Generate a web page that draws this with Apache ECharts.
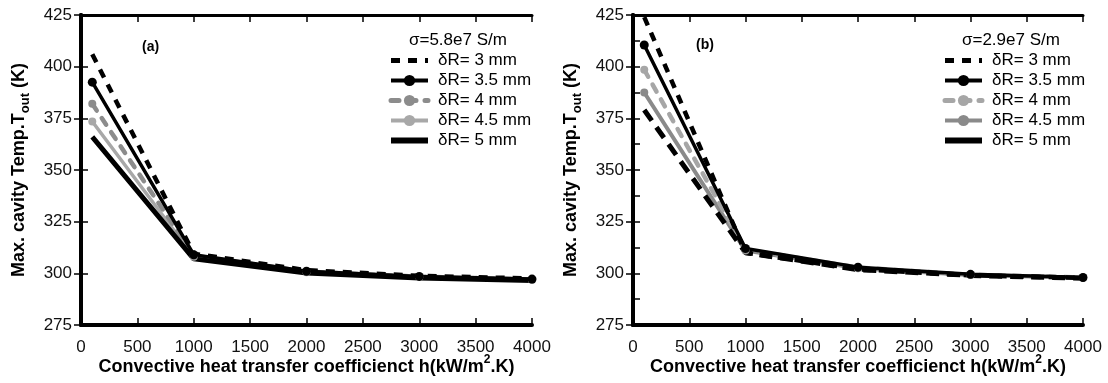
<!DOCTYPE html>
<html><head><meta charset="utf-8">
<script src="https://cdn.jsdelivr.net/npm/echarts@6/dist/echarts.min.js"></script>
<style>html,body{margin:0;padding:0;background:#fff}#c{width:1108px;height:383px}</style>
</head><body><div id="c"></div>
<script>
// ---- data ----
const h = [100, 1000, 2000, 3000, 4000];
const seriesNames = ['δR= 3 mm', 'δR= 3.5 mm', 'δR= 4 mm', 'δR= 4.5 mm', 'δR= 5 mm'];
// panel (a) sigma = 5.8e7 S/m
const a_dR3  = [406, 309.5, 301.5, 298.8, 297.5];
const a_dR35 = [392.5, 309, 301, 298.5, 297.2];
const a_dR4  = [382, 308.5, 300.8, 298.4, 297];
const a_dR45 = [373.5, 308, 300.5, 298.2, 296.8];
const a_dR5  = [366, 307, 300.2, 297.8, 296.5];
// panel (b) sigma = 2.9e7 S/m
const b_dR3  = [424, 310, 302, 299, 297.8];
const b_dR35 = [410.5, 312, 303, 299.5, 298];
const b_dR4  = [398.5, 311.5, 302.8, 299.3, 298];
const b_dR45 = [387.5, 311, 302.5, 299.2, 297.9];
const b_dR5  = [379, 310, 301.8, 299, 297.6];

const pairs = (ys) => h.map((x, i) => [x, ys[i]]);

const font = 'Liberation Sans, Arial, sans-serif';
function axesFor(gi, minor) {
  const xs = [
    { type: 'value', gridIndex: gi, min: 0, max: 4000, interval: 500, position: 'bottom',
      axisLine: { lineStyle: { color: '#000', width: 4 } },
      axisTick: { inside: true, length: 7, lineStyle: { color: '#000', width: 1.5 } },
      axisLabel: { color: '#111', fontSize: 17, fontFamily: font, margin: 14, formatter: v => String(v) },
      splitLine: { show: false },
      name: '{b|Convective heat transfer coefficienct h(kW/m}{sup|2}{b|.K)}',
      nameLocation: 'middle', nameGap: 29, nameMoveOverlap: false,
      nameTextStyle: { rich: {
        b: { fontSize: 18, fontWeight: 'bold', fontFamily: font, color: '#000', verticalAlign: 'bottom', lineHeight: 22 },
        sup: { fontSize: 12, fontWeight: 'bold', fontFamily: font, color: '#000', verticalAlign: 'top', lineHeight: 22, padding: [0, 0, 6, 0] }
      } } },
    { type: 'value', gridIndex: gi, min: 0, max: 4000, interval: 500, position: 'top',
      axisLine: { lineStyle: { color: '#000', width: 3 } },
      axisTick: { inside: true, length: 7, lineStyle: { color: '#000', width: 1.5 } },
      axisLabel: { show: false }, splitLine: { show: false } }
  ];
  const ys = [
    { type: 'value', gridIndex: gi, min: 275, max: 425, interval: 25, position: 'left',
      axisLine: { show: true, lineStyle: { color: '#000', width: 4 } },
      axisTick: { show: true, inside: true, length: 7, lineStyle: { color: '#000', width: 1.5 } },
      minorTick: { show: minor, splitNumber: 2, length: 7, lineStyle: { color: '#000', width: 1.5 } },
      axisLabel: { color: '#111', fontSize: 17, fontFamily: font, margin: 9 },
      splitLine: { show: false },
      name: '{b|Max. cavity Temp.T}{s|out}{b| (K)}',
      nameLocation: 'middle', nameGap: 49, nameRotate: 90, nameMoveOverlap: false,
      nameTextStyle: { rich: {
        b: { fontSize: 18, fontWeight: 'bold', fontFamily: font, color: '#000', verticalAlign: 'top', lineHeight: 22 },
        s: { fontSize: 13, fontWeight: 'bold', fontFamily: font, color: '#000', verticalAlign: 'bottom', lineHeight: 22, padding: [6, 0, 0, 0] }
      } } },
    { type: 'value', gridIndex: gi, min: 275, max: 425, interval: 25, position: 'right',
      axisLine: { show: true, lineStyle: { color: '#000', width: 4 } },
      axisTick: { show: true, inside: true, length: 7, lineStyle: { color: '#000', width: 1.5 } },
      axisLabel: { show: false }, splitLine: { show: false } }
  ];
  return { xs, ys };
}

const A = axesFor(0, false), B = axesFor(1, true);

function mk(name, data, xi, yi, style) {
  return Object.assign({
    name, type: 'line', xAxisIndex: xi, yAxisIndex: yi, data: pairs(data),
    symbol: 'none', animation: false, z: 3, clip: true
  }, style);
}

const S = {
  d3:  { lineStyle: { color: '#000', width: 4.5, type: [9, 8] }, itemStyle: { color: '#000' } },
  d35: { symbol: 'circle', symbolSize: 9, lineStyle: { color: '#000', width: 3.5 }, itemStyle: { color: '#000' } },
  d4a: { symbol: 'circle', symbolSize: 8, lineStyle: { color: '#8c8c8c', width: 4.5, type: [8, 9], cap: 'round' }, itemStyle: { color: '#8c8c8c' } },
  d45a:{ symbol: 'circle', symbolSize: 8, lineStyle: { color: '#a8a8a8', width: 3.5 }, itemStyle: { color: '#a8a8a8' } },
  d5:  { lineStyle: { color: '#000', width: 5 }, itemStyle: { color: '#000' } },
  d4b: { symbol: 'circle', symbolSize: 8, lineStyle: { color: '#a6a6a6', width: 4.5, type: [8, 9], cap: 'round' }, itemStyle: { color: '#a6a6a6' } },
  d45b:{ symbol: 'circle', symbolSize: 8, lineStyle: { color: '#8a8a8a', width: 4 }, itemStyle: { color: '#8a8a8a' } },
  d5b: { lineStyle: { color: '#000', width: 5, type: [13, 8] }, itemStyle: { color: '#000' } }
};

const series = [
  mk(seriesNames[3], a_dR45, 0, 0, S.d45a),
  mk(seriesNames[2], a_dR4, 0, 0, S.d4a),
  mk(seriesNames[1], a_dR35, 0, 0, S.d35),
  mk(seriesNames[0], a_dR3, 0, 0, S.d3),
  mk(seriesNames[4], a_dR5, 0, 0, S.d5),
  mk(seriesNames[3] + ' ', b_dR45, 2, 2, S.d45b),
  mk(seriesNames[2] + ' ', b_dR4, 2, 2, S.d4b),
  mk(seriesNames[1] + ' ', b_dR35, 2, 2, S.d35),
  mk(seriesNames[4] + ' ', b_dR5, 2, 2, S.d5b),
  mk(seriesNames[0] + ' ', b_dR3, 2, 2, S.d3)
];

function legendData(suffix) {
  return seriesNames.map((n, i) => {
    const item = { name: n + suffix };
    if (i === 0) { item.itemStyle = { opacity: 0 }; item.lineStyle = { width: 5, type: [9, 8] }; }
    if (i === 4) { item.itemStyle = { opacity: 0 }; item.lineStyle = { width: 6, type: 'solid' }; }
    if (i === 1) { item.lineStyle = { width: 4 }; }
    if (i === 2) { item.lineStyle = { width: 5, type: [8, 9] }; }
    if (i === 3) { item.lineStyle = { width: 4 }; }
    return item;
  });
}

const legendBase = {
  orient: 'vertical', top: 47, itemWidth: 37, itemHeight: 14, itemGap: 3,
  textStyle: { fontSize: 17, fontFamily: font, color: '#000', padding: [0, 0, 0, 5] },
  selectedMode: false
};

const option = {
  backgroundColor: '#fff',
  animation: false,
  grid: [
    { left: 81, right: 576, top: 15, bottom: 58, outerBoundsMode: 'none', containLabel: false },
    { left: 633, right: 25, top: 15, bottom: 58, outerBoundsMode: 'none', containLabel: false }
  ],
  xAxis: [...A.xs, ...B.xs],
  yAxis: [...A.ys, ...B.ys],
  legend: [
    Object.assign({}, legendBase, { left: 383, data: legendData('') }),
    Object.assign({}, legendBase, { left: 937, data: legendData(' ') })
  ],
  title: [
    { text: 'σ=5.8e7 S/m', left: 404, top: 27, textStyle: { fontSize: 17, fontWeight: 'normal', fontFamily: font, color: '#000' } },
    { text: 'σ=2.9e7 S/m', left: 957, top: 27, textStyle: { fontSize: 17, fontWeight: 'normal', fontFamily: font, color: '#000' } },
    { text: '(a)', left: 137, top: 35, textStyle: { fontSize: 14, fontWeight: 'bold', fontFamily: font, color: '#000' } },
    { text: '(b)', left: 691, top: 33, textStyle: { fontSize: 14, fontWeight: 'bold', fontFamily: font, color: '#000' } }
  ],
  series
};

const chart = echarts.init(document.getElementById('c'), null, { renderer: 'canvas' });
chart.setOption(option);
</script></body></html>
